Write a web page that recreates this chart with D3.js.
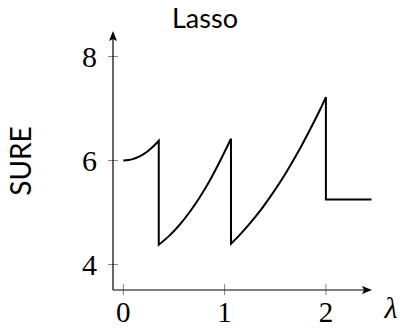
<!DOCTYPE html>
<html><head><meta charset="utf-8">
<script src="https://cdn.jsdelivr.net/npm/d3@7"></script>
<style>body{margin:0;background:#fff}svg{display:block}</style>
</head><body>
<script>
const title = "Lasso";
const yLabel = "SURE";
const xLabel = "λ";
const xTicks = [0, 1, 2];
const yTicks = [4, 6, 8];
// SURE curve (repeated lambda = jump)
const lambdaVals = [0, 0.05, 0.1, 0.15, 0.2, 0.25, 0.3, 0.35,
  0.35, 0.45, 0.55, 0.65, 0.75, 0.85, 0.95, 1.063,
  1.063, 1.15, 1.25, 1.35, 1.45, 1.55, 1.65, 1.75, 1.85, 1.95, 2.0,
  2.0, 2.45];
const sureVals = [6, 6.008, 6.031, 6.07, 6.124, 6.194, 6.279, 6.38,
  4.38, 4.546, 4.75, 4.995, 5.28, 5.60, 5.97, 6.42,
  4.40, 4.57, 4.79, 5.03, 5.30, 5.59, 5.91, 6.25, 6.62, 7.01, 7.22,
  5.25, 5.25];

const W = 400, H = 329;
const svg = d3.select("body").append("svg").attr("width", W).attr("height", H);
const x = d3.scaleLinear().domain([0, 2]).range([123.3, 325.9]);
const y = d3.scaleLinear().domain([4, 8]).range([264.5, 56.5]);
const x0 = 113, y0 = 290, xEnd = 372, yEnd = 31;

// ticks
svg.append("g").selectAll("line.yt").data(yTicks).join("line")
  .attr("x1", x0 - 5).attr("x2", x0 + 5)
  .attr("y1", d => y(d)).attr("y2", d => y(d))
  .attr("stroke", "#666").attr("stroke-width", 0.8);
svg.append("g").selectAll("line.xt").data(xTicks).join("line")
  .attr("y1", y0 - 6).attr("y2", y0 + 5)
  .attr("x1", d => x(d)).attr("x2", d => x(d))
  .attr("stroke", "#666").attr("stroke-width", 0.8);

// axes
svg.append("line").attr("x1", x0).attr("x2", xEnd - 6).attr("y1", y0).attr("y2", y0)
  .attr("stroke", "#000").attr("stroke-width", 1.2);
svg.append("line").attr("x1", x0).attr("x2", x0).attr("y1", y0).attr("y2", yEnd + 6)
  .attr("stroke", "#000").attr("stroke-width", 1.2);
svg.append("path").attr("d", `M${xEnd},${y0} L${xEnd-10},${y0-4} L${xEnd-8},${y0} L${xEnd-10},${y0+4} Z`).attr("fill", "#000");
svg.append("path").attr("d", `M${x0},${yEnd} L${x0-4},${yEnd+10} L${x0},${yEnd+8} L${x0+4},${yEnd+10} Z`).attr("fill", "#000");

// tick labels
svg.append("g").selectAll("text").data(yTicks).join("text")
  .attr("x", 97).attr("y", d => y(d) + 10)
  .attr("text-anchor", "end")
  .attr("font-family", "Liberation Serif, serif").attr("font-size", 30)
  .text(d => d);
svg.append("g").selectAll("text").data(xTicks).join("text")
  .attr("x", d => x(d)).attr("y", 322)
  .attr("text-anchor", "middle")
  .attr("font-family", "Liberation Serif, serif").attr("font-size", 29)
  .text(d => d);

// labels
svg.append("text").attr("x", 391).attr("y", 318).attr("text-anchor", "middle")
  .attr("font-family", "Liberation Serif, serif").attr("font-style", "italic").attr("font-size", 30)
  .text(xLabel);
svg.append("text").attr("x", 205).attr("y", 28).attr("text-anchor", "middle")
  .attr("font-family", "Lato, sans-serif").attr("font-size", 27)
  .text(title);
svg.append("text").attr("transform", "translate(31,161) rotate(-90)").attr("text-anchor", "middle")
  .attr("font-family", "Lato, sans-serif").attr("font-size", 28)
  .text(yLabel);

// curve: split into increasing runs, join with vertical jumps
const pts = lambdaVals.map((l, i) => [l, sureVals[i]]);
const runs = [];
let cur = [pts[0]];
for (let i = 1; i < pts.length; i++) {
  if (pts[i][0] > pts[i-1][0]) cur.push(pts[i]);
  else { runs.push(cur); cur = [pts[i]]; }
}
runs.push(cur);
const line = d3.line().x(d => x(d[0])).y(d => y(d[1])).curve(d3.curveMonotoneX);
let dStr = runs.map((r, i) => { const s = line(r); return i === 0 ? s : "L" + s.slice(1); }).join("");
svg.append("path").attr("d", dStr).attr("fill", "none").attr("stroke", "#000")
  .attr("stroke-width", 2).attr("stroke-linejoin", "miter");
</script>
</body></html>
